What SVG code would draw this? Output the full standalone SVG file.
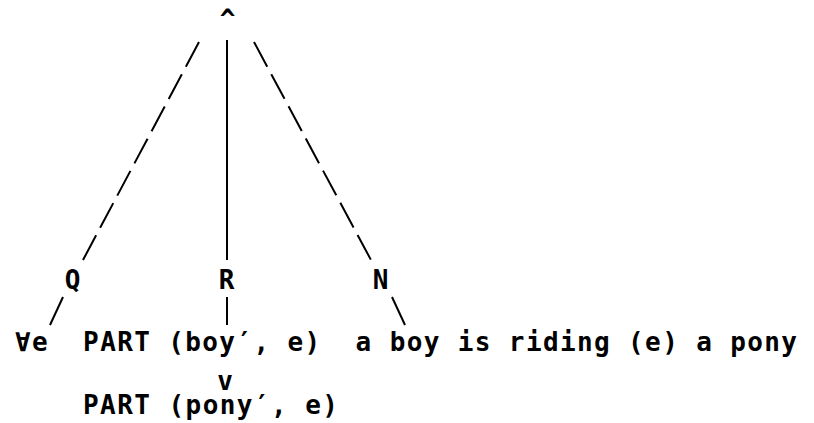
<svg xmlns="http://www.w3.org/2000/svg" width="814" height="423" viewBox="0 0 814 423">
<style>
  text { font-family: "DejaVu Sans Mono", "Liberation Mono", monospace; font-weight: bold; font-size: 26px; fill: #000; white-space: pre; }
  .lbl { text-anchor: middle; }
  .ln { stroke: #000; stroke-width: 2; fill: none; stroke-linecap: butt; }
  .dash { stroke-dasharray: 28 8.5; }
</style>
<rect width="814" height="423" fill="#fff"/>
<g id="connectors">
  <line class="ln dash" x1="199" y1="42" x2="83" y2="260"/>
  <line class="ln" x1="227" y1="40" x2="227" y2="260"/>
  <line class="ln dash" x1="254" y1="42" x2="371" y2="260"/>
  <line class="ln" x1="63" y1="297" x2="50" y2="325"/>
  <line class="ln" x1="227" y1="297" x2="227" y2="325"/>
  <line class="ln" x1="392" y1="297" x2="405" y2="325"/>
</g>
<g id="root"><text class="lbl" x="227.5" y="28" font-size="24">^</text></g>
<g id="node-Q"><text class="lbl" x="72.5" y="289">Q</text></g>
<g id="node-R"><text class="lbl" x="226.5" y="289">R</text></g>
<g id="node-N"><text class="lbl" x="380.5" y="289">N</text></g>
<g id="formula">
  <text x="15" y="351" xml:space="preserve" textLength="782" lengthAdjust="spacing">∀e  PART (boy′, e)  a boy is riding (e) a pony</text>
  <text class="lbl" x="225" y="390" font-size="18">v</text>
  <text x="83" y="414" xml:space="preserve" textLength="255" lengthAdjust="spacing">PART (pony′, e)</text>
</g>
</svg>
